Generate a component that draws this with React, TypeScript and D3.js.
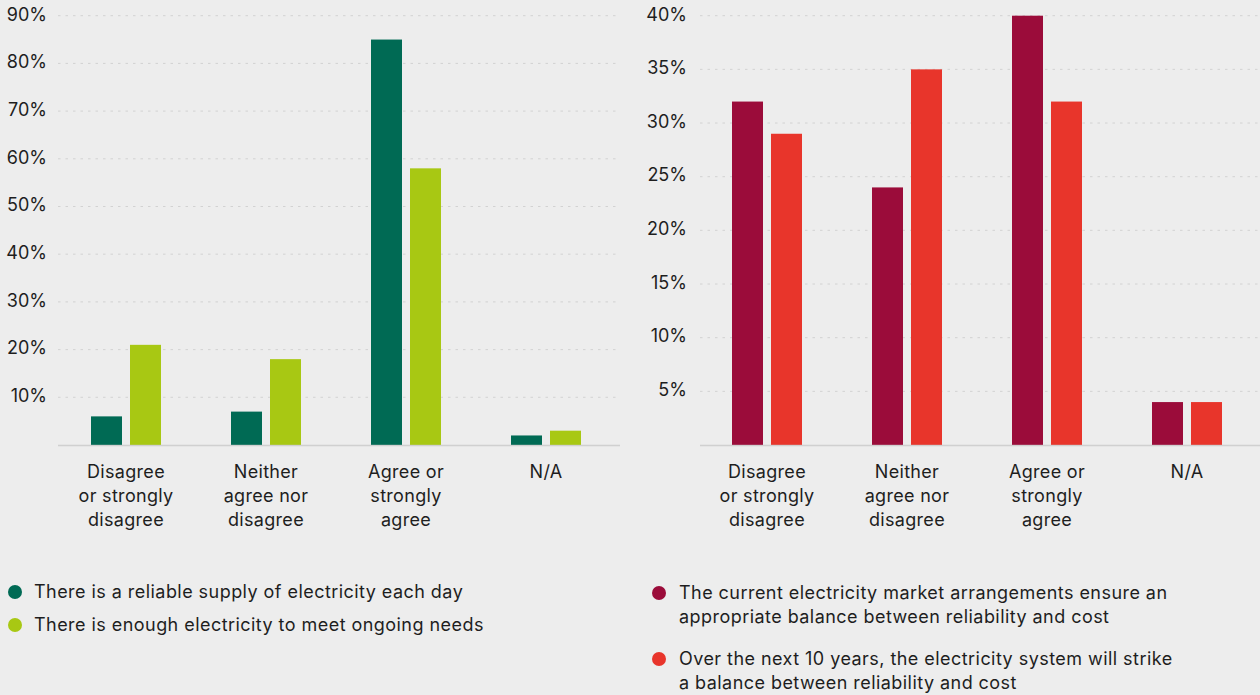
import React from "react";
import * as d3 from "d3";

const categories = [
  ["Disagree", "or strongly", "disagree"],
  ["Neither", "agree nor", "disagree"],
  ["Agree or", "strongly", "agree"],
  ["N/A"],
];
const catKeys = ["disagree", "neither", "agree", "na"];

const leftSeriesA = [6, 7, 85, 2];
const leftSeriesB = [21, 18, 58, 3];
const leftTicks = [10, 20, 30, 40, 50, 60, 70, 80, 90];

const rightSeriesA = [32, 24, 40, 4];
const rightSeriesB = [29, 35, 32, 4];
const rightTicks = [5, 10, 15, 20, 25, 30, 35, 40];

const leftLegend = [
  ["There is a reliable supply of electricity each day"],
  ["There is enough electricity to meet ongoing needs"],
];
const rightLegend = [
  ["The current electricity market arrangements ensure an", "appropriate balance between reliability and cost"],
  ["Over the next 10 years, the electricity system will strike", "a balance between reliability and cost"],
];

const FONT = "Inter, Roboto, 'Noto Sans', sans-serif";

type PanelProps = {
  a: number[];
  b: number[];
  ticks: number[];
  yMax: number;
  yTop: number;
  xRange: [number, number];
  gridX: [number, number];
  labelX: number;
  colors: [string, string];
};

function Panel({ a, b, ticks, yMax, yTop, xRange, gridX, labelX, colors }: PanelProps) {
  const y = d3.scaleLinear().domain([0, yMax]).range([445, yTop]);
  const x = d3.scaleBand().domain(catKeys).range(xRange);
  const barW = 31;
  const gap = 8;
  return (
    <g>
      {ticks.map((t) => (
        <g key={t}>
          <line x1={gridX[0]} x2={gridX[1]} y1={y(t)} y2={y(t)} stroke="#d2d2d2" strokeWidth={1} strokeDasharray="2.5,5" />
          <text x={labelX} y={y(t) - 1.5} dy="0.35em" textAnchor="end" fontSize={18} fill="#1e1e1e" fontFamily={FONT}>
            {t}%
          </text>
        </g>
      ))}
      {catKeys.map((k, i) => {
        const cx = (x(k) as number) + x.bandwidth() / 2;
        return (
          <g key={k}>
            <rect x={cx - gap / 2 - barW} y={y(a[i])} width={barW} height={y(0) - y(a[i])} fill={colors[0]} />
            <rect x={cx + gap / 2} y={y(b[i])} width={barW} height={y(0) - y(b[i])} fill={colors[1]} />
            {categories[i].map((line, j) => (
              <text key={j} x={cx} y={478 + j * 24} textAnchor="middle" fontSize={18} letterSpacing={0.3} fill="#1e1e1e" fontFamily={FONT}>
                {line}
              </text>
            ))}
          </g>
        );
      })}
      <line x1={gridX[0]} x2={gridX[1]} y1={y(0) + 0.5} y2={y(0) + 0.5} stroke="#c8c8c8" strokeOpacity={0.8} strokeWidth={1.5} />
    </g>
  );
}

export default function App() {
  const leftColors: [string, string] = ["#006a54", "#a8c813"];
  const rightColors: [string, string] = ["#9b0c3a", "#e8352b"];
  return (
    <svg width={1260} height={695} style={{ position: "absolute", left: 0, top: 0, background: "#ededed" }}>
      <rect width={1260} height={695} fill="#ededed" />
      <Panel a={leftSeriesA} b={leftSeriesB} ticks={leftTicks} yMax={90} yTop={15.7} xRange={[56, 616]} gridX={[58, 620]} labelX={47} colors={leftColors} />
      <Panel a={rightSeriesA} b={rightSeriesB} ticks={rightTicks} yMax={40} yTop={15.7} xRange={[697, 1257]} gridX={[700, 1260]} labelX={687} colors={rightColors} />
      {leftLegend.map((lines, i) => (
        <g key={i}>
          <circle cx={15} cy={592 + i * 33} r={7} fill={leftColors[i]} />
          {lines.map((l, j) => (
            <text key={j} x={34} y={598 + i * 33 + j * 24} fontSize={18} letterSpacing={0.45} fill="#1e1e1e" fontFamily={FONT}>
              {l}
            </text>
          ))}
        </g>
      ))}
      {rightLegend.map((lines, i) => (
        <g key={i}>
          <circle cx={659} cy={593 + i * 66} r={7} fill={rightColors[i]} />
          {lines.map((l, j) => (
            <text key={j} x={679} y={599 + i * 66 + j * 24} fontSize={18} letterSpacing={0.45} fill="#1e1e1e" fontFamily={FONT}>
              {l}
            </text>
          ))}
        </g>
      ))}
    </svg>
  );
}
